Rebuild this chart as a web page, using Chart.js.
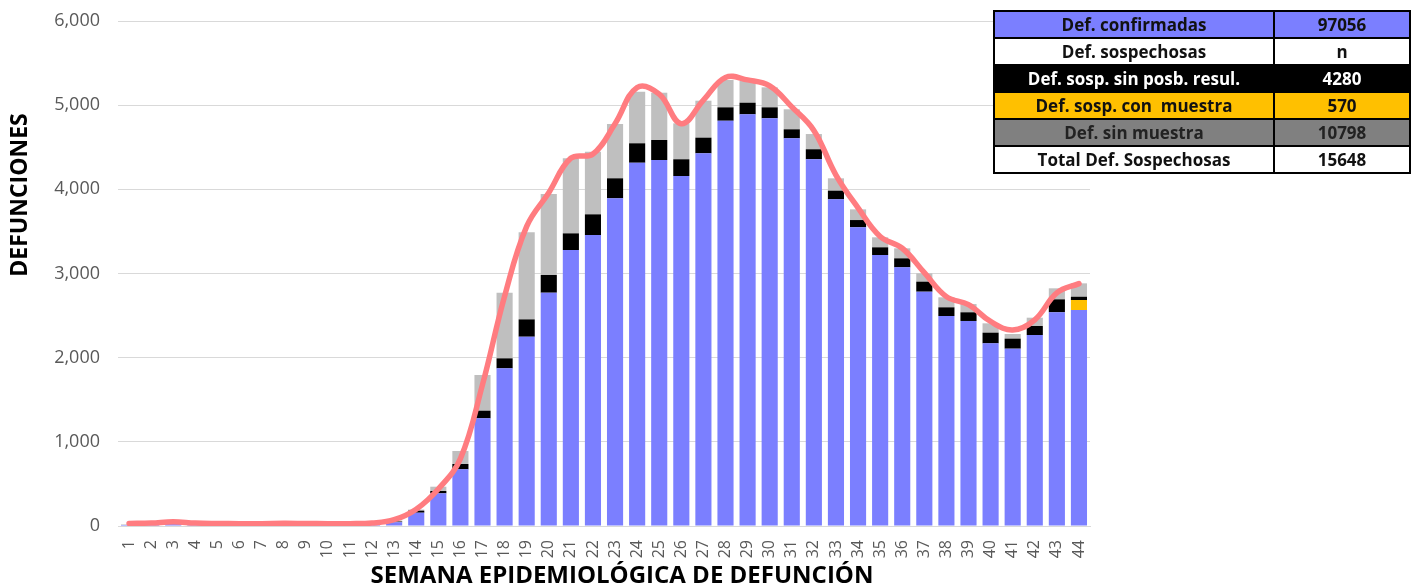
<!DOCTYPE html>
<html>
<head>
<meta charset="utf-8">
<script src="https://cdn.jsdelivr.net/npm/chart.js@4.4.1/dist/chart.umd.min.js"></script>
<style>
  body { margin:0; background:#fff; }
  #wrap { position:relative; width:1417px; height:587px; }
  #summary { position:absolute; left:993px; top:10px; border-collapse:collapse;
             font-family:"Open Sans", sans-serif; font-weight:700; font-size:17px; }
  #summary td { border:2px solid #000; height:25px; padding:0; text-align:center; white-space:pre; }
  #summary td.lab { width:278px; }
  #summary td.val { width:134px; }
</style>
</head>
<body>
<div id="wrap">
  <canvas id="defChart"></canvas>
  <table id="summary"></table>
</div>
<script>
var weeks = [];
for (var w = 1; w <= 44; w++) weeks.push(String(w));

// Defunciones confirmadas (azul)
var confirmadas = [12,15,22,16,13,11,11,12,11,10,10,14,45,158,388,673,1279,1873,2249,2772,3279,3457,
                   3893,4316,4348,4158,4428,4815,4891,4844,4606,4357,3881,3549,3220,3073,2784,2495,2436,2170,2107,2269,2539,2566];
// Def. sosp. con muestra (amarillo)
var conMuestra = [0,0,0,0,0,0,0,0,0,0,0,0,0,0,0,0,0,0,0,0,0,0,
                  0,0,0,0,0,0,0,0,0,0,0,0,0,0,0,0,0,0,0,0,0,119];
// Def. sosp. sin posibilidad de resultado (negro)
var sinPosbResul = [1,1,2,1,1,1,1,1,1,1,1,1,8,24,28,64,91,119,206,210,198,246,
                    238,231,238,199,186,159,138,130,107,119,103,86,91,107,119,103,103,127,119,107,154,39];
// Def. sin muestra (gris)
var sinMuestra = [3,3,5,3,3,3,3,3,3,3,3,4,12,13,51,154,424,780,1034,962,891,744,
                  645,613,562,427,439,325,260,238,238,181,147,127,119,119,99,119,98,111,55,99,131,159];
// Curva de tendencia (rojo)
var tendencia = [30,35,50,35,30,28,28,32,30,28,28,35,75,200,440,800,1680,2730,3560,3960,4370,4420,
                 4780,5210,5130,4780,5060,5330,5300,5230,4980,4700,4170,3780,3440,3300,3010,2725,2630,2430,2330,2450,2770,2880];

var yTicks = [0,1000,2000,3000,4000,5000,6000];

var tableRows = [
  ['Def. confirmadas', '97056', '#7B7FFF', '#111'],
  ['Def. sospechosas', 'n', '#fff', '#111'],
  ['Def. sosp. sin posb. resul.', '4280', '#000', '#fff'],
  ['Def. sosp. con  muestra', '570', '#FFC000', '#111'],
  ['Def. sin muestra', '10798', '#808080', '#222'],
  ['Total Def. Sospechosas', '15648', '#fff', '#111']
];

var tbl = document.getElementById('summary');
tableRows.forEach(function (r) {
  var tr = document.createElement('tr');
  [r[0], r[1]].forEach(function (txt, i) {
    var td = document.createElement('td');
    td.className = i === 0 ? 'lab' : 'val';
    td.textContent = txt;
    td.style.background = r[2];
    td.style.color = r[3];
    tr.appendChild(td);
  });
  tbl.appendChild(tr);
});

var axisTitles = {
  id: 'axisTitles',
  afterDraw: function (chart) {
    var ctx = chart.ctx;
    ctx.save();
    ctx.fillStyle = '#000';
    ctx.textAlign = 'center';
    ctx.textBaseline = 'middle';
    ctx.font = 'bold 24px "Open Sans"';
    ctx.fillText('SEMANA EPIDEMIOLÓGICA DE DEFUNCIÓN', 622, 576);
    ctx.font = 'bold 23px "Open Sans"';
    ctx.translate(20, 195);
    ctx.rotate(-Math.PI / 2);
    ctx.fillText('DEFUNCIONES', 0, 0);
    ctx.restore();
  }
};

var barBase = { type:'bar', stack:'def', order:2, barPercentage:0.73, categoryPercentage:1.0 };
function barSet(label, data, color) {
  return Object.assign({ label:label, data:data, backgroundColor:color }, barBase);
}

new Chart(document.getElementById('defChart'), {
  data: {
    labels: weeks,
    datasets: [
      { type:'line', label:'Tendencia', data:tendencia, stack:'line', order:0,
        borderColor:'#FF7C80', borderWidth:5.5, pointRadius:0, tension:0.4,
        borderCapStyle:'round', fill:false },
      barSet('Def. confirmadas', confirmadas, '#7B7FFF'),
      barSet('Def. sosp. con muestra', conMuestra, '#FFC000'),
      barSet('Def. sosp. sin posb. resul.', sinPosbResul, '#000000'),
      barSet('Def. sin muestra', sinMuestra, '#BFBFBF')
    ]
  },
  options: {
    responsive:true, maintainAspectRatio:false, animation:false,
    layout: { padding: { top:21, right:327, left:0, bottom:0 } },
    plugins: { legend:{display:false}, tooltip:{enabled:false} },
    scales: {
      x: {
        stacked:true,
        grid:{ display:false },
        border:{ color:'#D9D9D9' },
        ticks:{ autoSkip:false, minRotation:90, maxRotation:90, padding:6,
                color:'#595959', font:{ family:'Open Sans', size:16 } },
        afterFit: function (s) { s.height = 61; }
      },
      y: {
        stacked:true, min:0, max:6000,
        afterBuildTicks: function (s) { s.ticks = yTicks.map(function (v) { return { value:v }; }); },
        grid:{ color:'#D9D9D9', drawTicks:false },
        border:{ display:false },
        ticks:{ padding:18, color:'#595959', font:{ family:'Open Sans', size:18 },
                callback:function (v) { return v.toLocaleString('en-US'); } },
        afterFit: function (s) { s.width = 118; s.paddingTop = 0; s.paddingBottom = 0; }
      }
    }
  },
  plugins: [axisTitles]
});
</script>
</body>
</html>
